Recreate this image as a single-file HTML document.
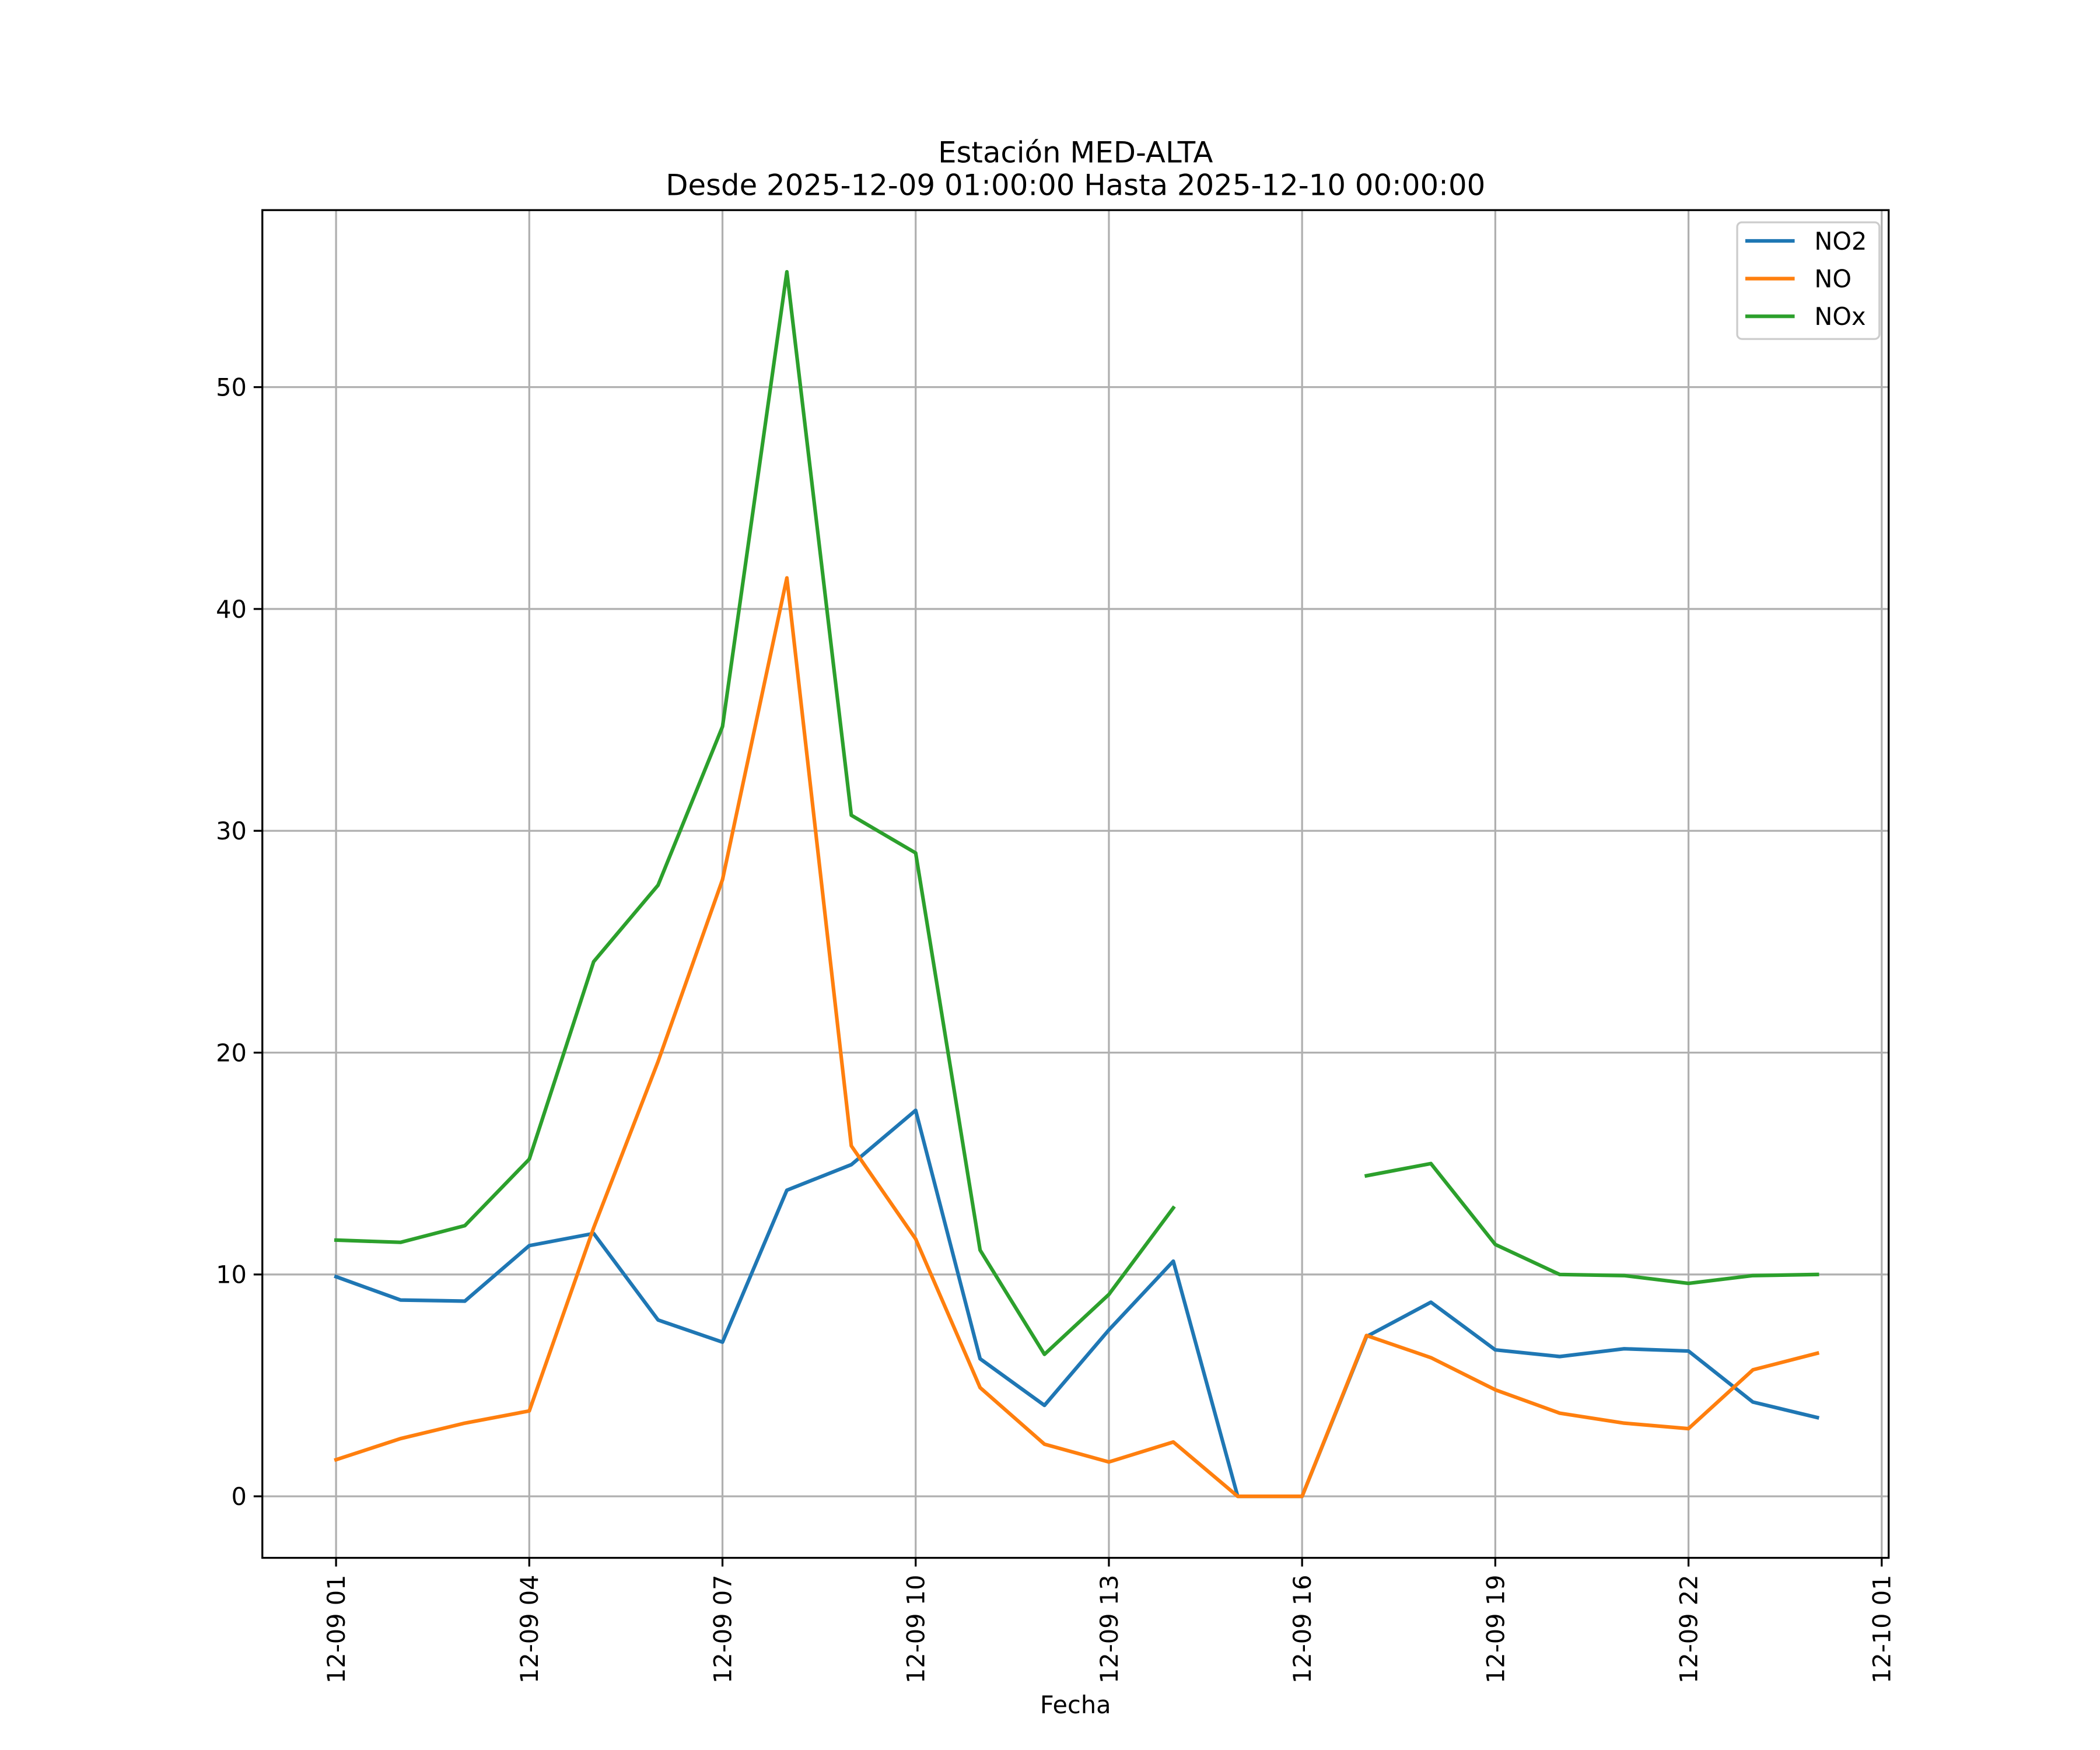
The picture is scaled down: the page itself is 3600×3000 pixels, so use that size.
<!DOCTYPE html>
<html><head><meta charset="utf-8"><style>
html,body{margin:0;padding:0;background:#fff;}
svg{display:block;font-family:"DejaVu Sans","Liberation Sans",sans-serif;}
</style></head><body>
<svg id="chart" width="3600" height="3000" viewBox="0 0 3600 3000" xmlns="http://www.w3.org/2000/svg">
<rect width="3600" height="3000" fill="#fff"/>
<g transform="scale(0.995)">
<g id="grid"></g>
<g id="series"></g>
<rect x="452" y="362" width="2802" height="2322" fill="none" stroke="#000" stroke-width="3.3"/>
<g id="ticks"></g>
<text x="1853" y="280" font-size="50" text-anchor="middle">Estación MED-ALTA</text>
<text x="1853" y="336" font-size="50" text-anchor="middle">Desde 2025-12-09 01:00:00 Hasta 2025-12-10 00:00:00</text>
<text x="1853" y="2952" font-size="41.7" text-anchor="middle">Fecha</text>
<g>
<rect x="2993" y="383" width="245" height="201" rx="8" fill="#fff" fill-opacity="0.8" stroke="#ccc" stroke-width="3.3"/>
<line x1="3007" y1="415" x2="3092" y2="415" stroke="#1f77b4" stroke-width="6.25"/>
<text x="3126" y="430" font-size="41.7">NO2</text>
<line x1="3007" y1="480" x2="3092" y2="480" stroke="#ff7f0e" stroke-width="6.25"/>
<text x="3126" y="495" font-size="41.7">NO</text>
<line x1="3007" y1="545" x2="3092" y2="545" stroke="#2ca02c" stroke-width="6.25"/>
<text x="3126" y="560" font-size="41.7">NOx</text>
</g>
</g>
</svg>
<script>
const hours = [1,2,3,4,5,6,7,8,9,10,11,12,13,14,15,16,17,18,19,20,21,22,23,24];
const no2 = [9.9,8.85,8.8,11.3,11.85,7.95,6.95,13.8,14.95,17.4,6.2,4.1,7.5,10.6,0,0,7.2,8.75,6.6,6.3,6.65,6.55,4.25,3.55];
const no = [1.65,2.6,3.3,3.85,12.1,19.6,27.8,41.4,15.8,11.6,4.9,2.35,1.55,2.45,0,0,7.25,6.25,4.8,3.75,3.3,3.05,5.7,6.45];
const nox = [11.55,11.45,12.2,15.2,24.1,27.55,34.7,55.2,30.7,29.0,11.1,6.4,9.1,13.0,null,null,14.45,15.0,11.35,10.0,9.95,9.6,9.95,10.0];
const yTicks = [0,10,20,30,40,50];
const xTickHours = [1,4,7,10,13,16,19,22,25];
const xTickLabels = ["12-09 01","12-09 04","12-09 07","12-09 10","12-09 13","12-09 16","12-09 19","12-09 22","12-10 01"];

const NS="http://www.w3.org/2000/svg";
const X = h => 579 + (h-1)*(3242-579)/24;
const Y = v => 2578 - v*(2578-667)/50;
function mk(tag, attrs, parent){const e=document.createElementNS(NS,tag);for(const k in attrs)e.setAttribute(k,attrs[k]);parent.appendChild(e);return e;}
const grid=document.getElementById('grid'), ticks=document.getElementById('ticks'), ser=document.getElementById('series');
yTicks.forEach(v=>{
  const g=mk('line',{x1:452,x2:3254,y1:Y(v),y2:Y(v),stroke:'#b0b0b0','stroke-width':3.3},grid);
  
  
  const t=mk('line',{x1:437,x2:452,y1:Y(v),y2:Y(v),stroke:'#000','stroke-width':3.3},ticks);
  
  
  const l=mk('text',{x:425,y:Y(v)+15,'font-size':41.7,'text-anchor':'end'},ticks);
  l.textContent=v;
  
  
});
xTickHours.forEach((h,i)=>{
  const x=X(h);
  const g=mk('line',{x1:x,x2:x,y1:362,y2:2684,stroke:'#b0b0b0','stroke-width':3.3},grid);
  
  
  const t=mk('line',{x1:x,x2:x,y1:2684,y2:2699,stroke:'#000','stroke-width':3.3},ticks);
  
  
  const l=mk('text',{x:0,y:0,'font-size':41.7,'text-anchor':'end',transform:`translate(${x+15},2713) rotate(-90)`},ticks);
  l.textContent=xTickLabels[i];
  
  
});
[[no2,'#1f77b4','no2'],[no,'#ff7f0e','no'],[nox,'#2ca02c','nox']].forEach(([d,c,n])=>{
  let path='',pen=false;
  d.forEach((v,i)=>{
    if(v===null){pen=false;return;}
    path+=(pen?'L':'M')+X(hours[i]).toFixed(1)+' '+Y(v).toFixed(1)+' ';pen=true;
  });
  const p=mk('path',{d:path,fill:'none',stroke:c,'stroke-width':6.25,'stroke-linejoin':'round','stroke-linecap':'square'},ser);
  
  
});
</script>
</body></html>
